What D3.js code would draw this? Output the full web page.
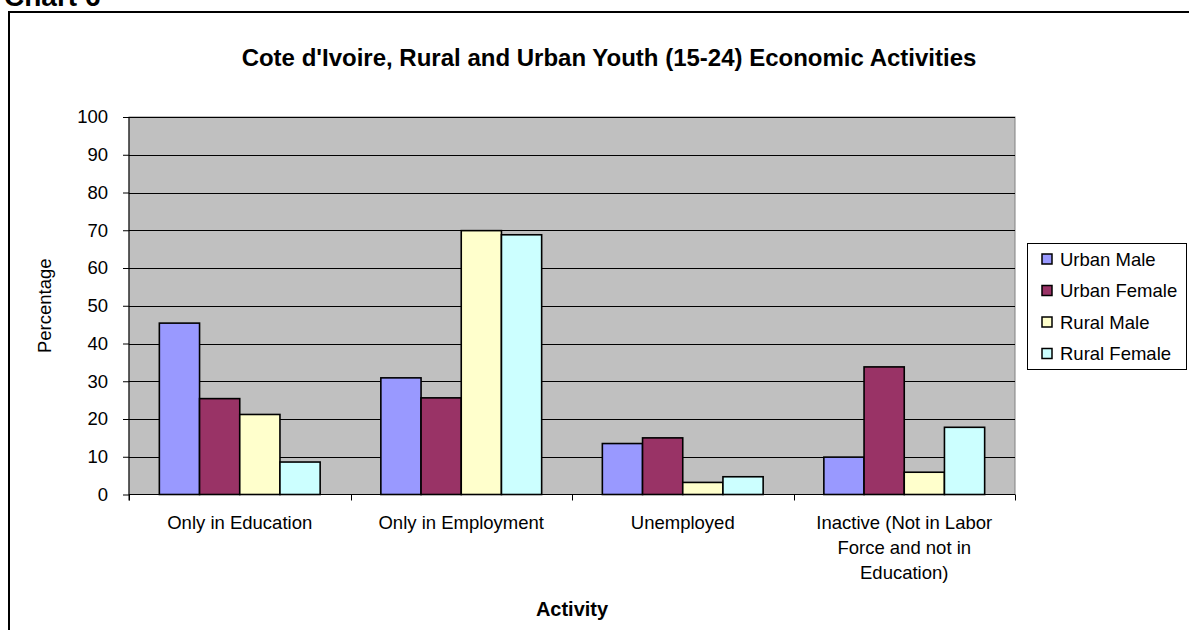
<!DOCTYPE html>
<html>
<head>
<meta charset="utf-8">
<script src="https://cdn.jsdelivr.net/npm/d3@7"></script>
<style>
  html, body { margin: 0; padding: 0; background: #fff; }
  svg { display: block; }
  text { font-family: "Liberation Sans", Arial, sans-serif; }
</style>
</head>
<body>
<svg id="chart" width="1189" height="630"></svg>
<script>
// ---- Data ----
const categories = ["Only in Education", "Only in Employment", "Unemployed", "Inactive (Not in Labor Force and not in Education)"];
const categoryLines = [["Only in Education"], ["Only in Employment"], ["Unemployed"], ["Inactive (Not in Labor", "Force and not in", "Education)"]];
const seriesNames = ["Urban Male", "Urban Female", "Rural Male", "Rural Female"];
const urbanMale   = [45.4, 30.9, 13.5, 9.9];
const urbanFemale = [25.4, 25.6, 15.0, 33.8];
const ruralMale   = [21.2, 69.9, 3.2, 5.9];
const ruralFemale = [8.6, 68.8, 4.7, 17.8];
const seriesValues = [urbanMale, urbanFemale, ruralMale, ruralFemale];
const seriesColors = ["#9999FF", "#993366", "#FFFFCC", "#CCFFFF"];
const yTicks = [0, 10, 20, 30, 40, 50, 60, 70, 80, 90, 100];

(function () {
const svg = d3.select("#chart");
const FS = 18.5;

// Outer chart frame
svg.append("rect").attr("x", 9).attr("y", 12).attr("width", 1200).attr("height", 640)
  .attr("fill", "#fff").attr("stroke", "#000").attr("stroke-width", 2);

// "Chart 6" caption (cut off at top, as in the reference)
svg.append("text").attr("x", 4).attr("y", 6)
  .attr("font-family", "Liberation Serif, Times New Roman, serif")
  .attr("font-weight", "bold").attr("font-size", 28).text("Chart 6");

// Title
svg.append("text").attr("x", 609).attr("y", 66).attr("text-anchor", "middle")
  .attr("font-weight", "bold").attr("font-size", 24)
  .text("Cote d'Ivoire, Rural and Urban Youth (15-24) Economic Activities");

const pLeft = 129, pRight = 1015, pTop = 117, pBottom = 494.5;

const x0 = d3.scaleBand().domain(categories).range([pLeft, pRight]).padding(0);
const x1 = d3.scaleBand().domain(seriesNames).range([0, x0.bandwidth()]).paddingInner(0).paddingOuter(0.755);
const y = d3.scaleLinear().domain([0, 100]).range([pBottom, pTop]);

// Plot area
svg.append("rect").attr("x", pLeft).attr("y", pTop).attr("width", pRight - pLeft).attr("height", pBottom - pTop)
  .attr("fill", "#C0C0C0").attr("stroke", "#808080").attr("stroke-width", 1);

// Gridlines
svg.append("g").selectAll("line").data(yTicks.filter(d => d > 0)).join("line")
  .attr("x1", pLeft).attr("x2", pRight)
  .attr("y1", d => Math.round(y(d)) + 0.5).attr("y2", d => Math.round(y(d)) + 0.5)
  .attr("stroke", "#000").attr("stroke-width", 1);

// Bars
const groups = svg.append("g").selectAll("g").data(categories).join("g")
  .attr("transform", c => `translate(${x0(c)},0)`);
groups.selectAll("rect").data((c, i) => seriesNames.map((s, j) => ({ s, j, v: seriesValues[j][i] })))
  .join("rect")
  .attr("x", d => x1(d.s)).attr("width", x1.bandwidth())
  .attr("y", d => y(d.v)).attr("height", d => y(0) - y(d.v))
  .attr("fill", d => seriesColors[d.j])
  .attr("stroke", "#000").attr("stroke-width", 1.6);

// Y axis
const yAxis = svg.append("g").attr("transform", `translate(${pLeft},0)`)
  .call(d3.axisLeft(y).tickValues(yTicks).tickSize(6).tickPadding(15).tickFormat(d3.format("d")));
yAxis.select(".domain").attr("stroke", "#000").attr("d", `M0,${pTop}V${pBottom + 6}`);
yAxis.selectAll(".tick line").attr("stroke", "#000");
yAxis.selectAll("text").attr("font-size", FS).attr("font-family", "Liberation Sans, Arial, sans-serif").attr("fill", "#000");

// X axis
const xAxis = svg.append("g").attr("transform", `translate(0,${pBottom})`);
xAxis.append("line").attr("x1", pLeft).attr("x2", pRight).attr("y1", 0).attr("y2", 0).attr("stroke", "#000");
const xTickPos = categories.map(c => x0(c)).concat([pRight]);
xAxis.selectAll("line.tk").data(xTickPos).join("line").attr("class", "tk")
  .attr("x1", d => Math.round(d) + 0.5).attr("x2", d => Math.round(d) + 0.5)
  .attr("y1", 0).attr("y2", 6).attr("stroke", "#000");
categories.forEach((c, i) => {
  const t = svg.append("text").attr("text-anchor", "middle").attr("font-size", FS)
    .attr("x", x0(c) + x0.bandwidth() / 2).attr("y", 529);
  categoryLines[i].forEach((ln, k) => {
    t.append("tspan").attr("x", x0(c) + x0.bandwidth() / 2).attr("dy", k === 0 ? 0 : 25).text(ln);
  });
});

// Axis titles
svg.append("text").attr("x", (pLeft + pRight) / 2).attr("y", 616).attr("text-anchor", "middle")
  .attr("font-weight", "bold").attr("font-size", 20).text("Activity");
svg.append("text").attr("transform", `translate(51,${(pTop + pBottom) / 2}) rotate(-90)`)
  .attr("text-anchor", "middle").attr("font-size", FS).text("Percentage");

// Legend
const lg = svg.append("g");
lg.append("rect").attr("x", 1027.5).attr("y", 243.5).attr("width", 159).attr("height", 126)
  .attr("fill", "#fff").attr("stroke", "#000").attr("stroke-width", 1);
const li = lg.selectAll("g").data(seriesNames).join("g")
  .attr("transform", (d, i) => `translate(0,${259 + i * 31.5})`);
li.append("rect").attr("x", 1042).attr("y", -5).attr("width", 10).attr("height", 10)
  .attr("fill", (d, i) => seriesColors[i]).attr("stroke", "#000").attr("stroke-width", 1.5);
li.append("text").attr("x", 1060).attr("y", 6.5).attr("font-size", FS).text(d => d);
})();
</script>
</body>
</html>
